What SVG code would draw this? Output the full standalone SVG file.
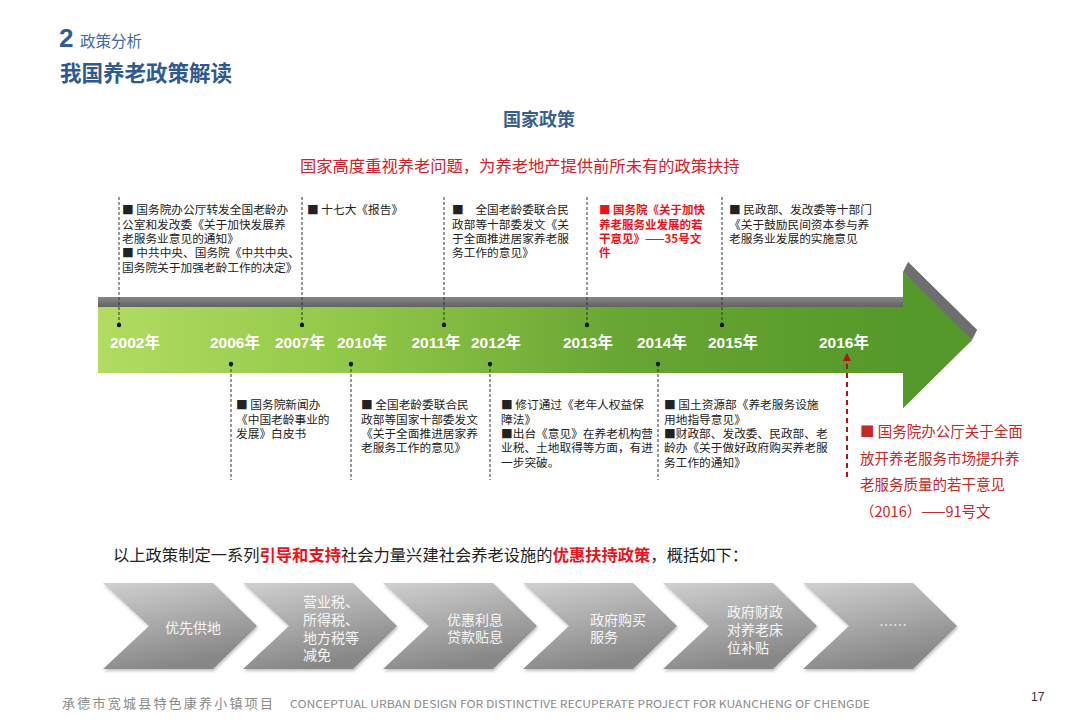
<svg xmlns="http://www.w3.org/2000/svg" width="1080" height="720" viewBox="0 0 1080 720">
<defs>
  <linearGradient id="gGreen" gradientUnits="userSpaceOnUse" x1="98" y1="0" x2="903" y2="0">
    <stop offset="0" stop-color="#b2dc62"/>
    <stop offset="0.3" stop-color="#93c949"/>
    <stop offset="0.65" stop-color="#68a633"/>
    <stop offset="1" stop-color="#55992a"/>
  </linearGradient>
  <linearGradient id="gGray" gradientUnits="userSpaceOnUse" x1="0" y1="296" x2="0" y2="308">
    <stop offset="0" stop-color="#8c8c8c"/>
    <stop offset="1" stop-color="#5e5e5e"/>
  </linearGradient>
  <linearGradient id="gChev" x1="0" y1="0" x2="0.35" y2="1">
    <stop offset="0" stop-color="#d0d0d0"/>
    <stop offset="1" stop-color="#878787"/>
  </linearGradient>
  <filter id="soft" x="-10%" y="-10%" width="120%" height="130%">
    <feDropShadow dx="1" dy="2" stdDeviation="1.5" flood-color="#000" flood-opacity="0.25"/>
  </filter>
  <marker id="redArrow" viewBox="0 0 10 10" refX="5" refY="5" markerWidth="4" markerHeight="4" orient="auto-start-reverse">
    <path d="M0,0 L10,5 L0,10 z" fill="#b01515"/>
  </marker>
  <style>
    .cjk { font-family: "Noto Sans CJK SC", "Liberation Sans", sans-serif; }
    .box { font-family: "Noto Sans CJK SC", sans-serif; font-size: 11.7px; fill: #222; }
    .boxRed { font-family: "Noto Sans CJK SC", sans-serif; font-size: 11.5px; fill: #e8141b; font-weight: bold; }
    .year { font-family: "Liberation Sans", "Noto Sans CJK SC", sans-serif; font-size: 15.5px; font-weight: bold; fill: #ffffff; text-anchor: middle; }
    .dash { stroke: #333; stroke-width: 1; stroke-dasharray: 3 2; fill: none; }
    .dot { fill: #111; }
    .chev { fill: url(#gChev); filter: url(#soft); }
    .chevT { font-family: "Noto Sans CJK SC", sans-serif; font-size: 14px; fill: #f6f6f6; }
    .foot { font-family: "Noto Sans CJK SC", "Liberation Sans", sans-serif; fill: #8a8a8a; }
  </style>
</defs>

<rect x="0" y="0" width="1080" height="720" fill="#ffffff"/>

<g id="header">
  <text x="59" y="47" font-family="Liberation Sans, sans-serif" font-size="26" font-weight="bold" fill="#2f5d96">2</text>
  <text x="80" y="47" class="cjk" font-size="15.5" fill="#3f6aa3">政策分析</text>
  <text x="60" y="81" class="cjk" font-size="21.5" font-weight="bold" fill="#2f5a90">我国养老政策解读</text>
  <text x="539" y="126" class="cjk" font-size="18" font-weight="bold" fill="#3b5f8c" text-anchor="middle">国家政策</text>
  <text x="300" y="172" class="cjk" font-size="16.3" fill="#d3202a">国家高度重视养老问题，为养老地产提供前所未有的政策扶持</text>
</g>

<g id="timeline">
  <polygon points="98,297 908,297 908,262 977,330 908,398 908,363 98,363" fill="url(#gGray)"/>
  <polygon points="908,262 977,330 972,340 903,272" fill="#6e6e6e"/>
  <polygon points="98,307 903,307 903,272 972,340 903,408 903,373 98,373" fill="url(#gGreen)"/>
  <polygon points="903,307 903,272 972,340 903,408 903,373" fill="#55992a"/>
  <text class="year" x="135" y="348">2002年</text>
  <text class="year" x="235" y="348">2006年</text>
  <text class="year" x="300" y="348">2007年</text>
  <text class="year" x="362" y="348">2010年</text>
  <text class="year" x="436" y="348">2011年</text>
  <text class="year" x="496" y="348">2012年</text>
  <text class="year" x="588" y="348">2013年</text>
  <text class="year" x="662" y="348">2014年</text>
  <text class="year" x="733" y="348">2015年</text>
  <text class="year" x="844" y="348">2016年</text>
</g>

<g id="connectors">
  <line class="dash" x1="119" y1="197" x2="119" y2="325"/>
  <line class="dash" x1="302" y1="197" x2="302" y2="325"/>
  <line class="dash" x1="444" y1="197" x2="444" y2="325"/>
  <line class="dash" x1="587" y1="197" x2="587" y2="325"/>
  <line class="dash" x1="722" y1="197" x2="722" y2="325"/>
  <circle class="dot" cx="119" cy="325" r="2.2"/>
  <circle class="dot" cx="302" cy="325" r="2.2"/>
  <circle class="dot" cx="444" cy="325" r="2.2"/>
  <circle class="dot" cx="587" cy="325" r="2.2"/>
  <circle class="dot" cx="722" cy="325" r="2.2"/>
  <line class="dash" x1="231" y1="364" x2="231" y2="480"/>
  <line class="dash" x1="351" y1="364" x2="351" y2="480"/>
  <line class="dash" x1="490" y1="364" x2="490" y2="480"/>
  <line class="dash" x1="658" y1="364" x2="658" y2="480"/>
  <circle class="dot" cx="231" cy="364" r="2.2"/>
  <circle class="dot" cx="351" cy="364" r="2.2"/>
  <circle class="dot" cx="490" cy="364" r="2.2"/>
  <circle class="dot" cx="658" cy="364" r="2.2"/>
  <line x1="847" y1="477" x2="847" y2="357" stroke="#b01515" stroke-width="2" stroke-dasharray="5 4" marker-end="url(#redArrow)"/>
</g>

<g id="note-2002">
  <text class="box"><tspan x="122" y="214">■ 国务院办公厅转发全国老龄办</tspan><tspan x="122" y="228.5">公室和发改委《关于加快发展养</tspan><tspan x="122" y="243">老服务业意见的通知》</tspan><tspan x="122" y="257">■ 中共中央、国务院《中共中央、</tspan><tspan x="122" y="271.5">国务院关于加强老龄工作的决定》</tspan></text>
</g>
<g id="note-2007">
  <text class="box" x="307" y="214">■ 十七大《报告》</text>
</g>
<g id="note-2011">
  <text class="box"><tspan x="452" y="214">■　全国老龄委联合民</tspan><tspan x="452" y="228.5">政部等十部委发文《关</tspan><tspan x="452" y="243">于全面推进居家养老服</tspan><tspan x="452" y="257">务工作的意见》</tspan></text>
</g>
<g id="note-2013">
  <text class="boxRed"><tspan x="599" y="214">■ 国务院《关于加快</tspan><tspan x="599" y="228.5">养老服务业发展的若</tspan><tspan x="599" y="243">干意见》——35号文</tspan><tspan x="599" y="257">件</tspan></text>
</g>
<g id="note-2015">
  <text class="box"><tspan x="729" y="214">■ 民政部、发改委等十部门</tspan><tspan x="729" y="228.5">《关于鼓励民间资本参与养</tspan><tspan x="729" y="243">老服务业发展的实施意见</tspan></text>
</g>

<g id="note-2006">
  <text class="box"><tspan x="236" y="409">■ 国务院新闻办</tspan><tspan x="236" y="423.5">《中国老龄事业的</tspan><tspan x="236" y="438">发展》白皮书</tspan></text>
</g>
<g id="note-2010">
  <text class="box"><tspan x="361" y="409">■ 全国老龄委联合民</tspan><tspan x="361" y="423.5">政部等国家十部委发文</tspan><tspan x="361" y="438">《关于全面推进居家养</tspan><tspan x="361" y="452">老服务工作的意见》</tspan></text>
</g>
<g id="note-2012">
  <text class="box"><tspan x="501" y="409">■ 修订通过《老年人权益保</tspan><tspan x="501" y="423.5">障法》</tspan><tspan x="501" y="438">■出台《意见》在养老机构营</tspan><tspan x="501" y="452">业税、土地取得等方面，有进</tspan><tspan x="501" y="466.5">一步突破。</tspan></text>
</g>
<g id="note-2014">
  <text class="box"><tspan x="664" y="409">■ 国土资源部《养老服务设施</tspan><tspan x="664" y="423.5">用地指导意见》</tspan><tspan x="664" y="438">■财政部、发改委、民政部、老</tspan><tspan x="664" y="452">龄办《关于做好政府购买养老服</tspan><tspan x="664" y="466.5">务工作的通知》</tspan></text>
</g>
<g id="note-2016">
  <text class="cjk" font-size="14.5" fill="#c62828"><tspan x="860" y="437">■ 国务院办公厅关于全面</tspan><tspan x="860" y="463.5">放开养老服务市场提升养</tspan><tspan x="860" y="490">老服务质量的若干意见</tspan><tspan x="860" y="517">（2016）——91号文</tspan></text>
</g>

<g id="summary">
  <text x="113" y="561" class="cjk" font-size="16.3" fill="#222">以上政策制定一系列<tspan fill="#e8141b" font-weight="bold">引导和支持</tspan>社会力量兴建社会养老设施的<tspan fill="#e8141b" font-weight="bold">优惠扶持政策</tspan>，概括如下：</text>
</g>

<g id="chevron-1">
  <polygon class="chev" points="103,583 213,583 257,626 213,669 103,669 149,626"/>
  <text class="chevT" x="193" y="633" text-anchor="middle">优先供地</text>
</g>
<g id="chevron-2">
  <polygon class="chev" points="243,583 353,583 397,626 353,669 243,669 289,626"/>
  <text class="chevT"><tspan x="303" y="607">营业税、</tspan><tspan x="303" y="625">所得税、</tspan><tspan x="303" y="643">地方税等</tspan><tspan x="303" y="660">减免</tspan></text>
</g>
<g id="chevron-3">
  <polygon class="chev" points="383,583 493,583 537,626 493,669 383,669 429,626"/>
  <text class="chevT"><tspan x="447" y="625">优惠利息</tspan><tspan x="447" y="642">贷款贴息</tspan></text>
</g>
<g id="chevron-4">
  <polygon class="chev" points="523,583 633,583 677,626 633,669 523,669 569,626"/>
  <text class="chevT"><tspan x="590" y="625">政府购买</tspan><tspan x="590" y="642">服务</tspan></text>
</g>
<g id="chevron-5">
  <polygon class="chev" points="663,583 773,583 817,626 773,669 663,669 709,626"/>
  <text class="chevT"><tspan x="727" y="617">政府财政</tspan><tspan x="727" y="635">对养老床</tspan><tspan x="727" y="653">位补贴</tspan></text>
</g>
<g id="chevron-6">
  <polygon class="chev" points="803,583 913,583 957,626 913,669 803,669 849,626"/>
  <text class="chevT" x="893" y="630" text-anchor="middle">……</text>
</g>

<g id="footer">
  <text class="foot" x="62" y="708" font-size="13" textLength="211" lengthAdjust="spacing">承德市宽城县特色康养小镇项目</text>
  <text class="foot" x="290" y="708" font-size="11" font-family="Liberation Sans, sans-serif" textLength="580" lengthAdjust="spacingAndGlyphs">CONCEPTUAL URBAN DESIGN FOR DISTINCTIVE RECUPERATE PROJECT FOR KUANCHENG OF CHENGDE</text>
  <text x="1031" y="701" font-family="Liberation Sans, sans-serif" font-size="12" fill="#333">17</text>
</g>
</svg>
